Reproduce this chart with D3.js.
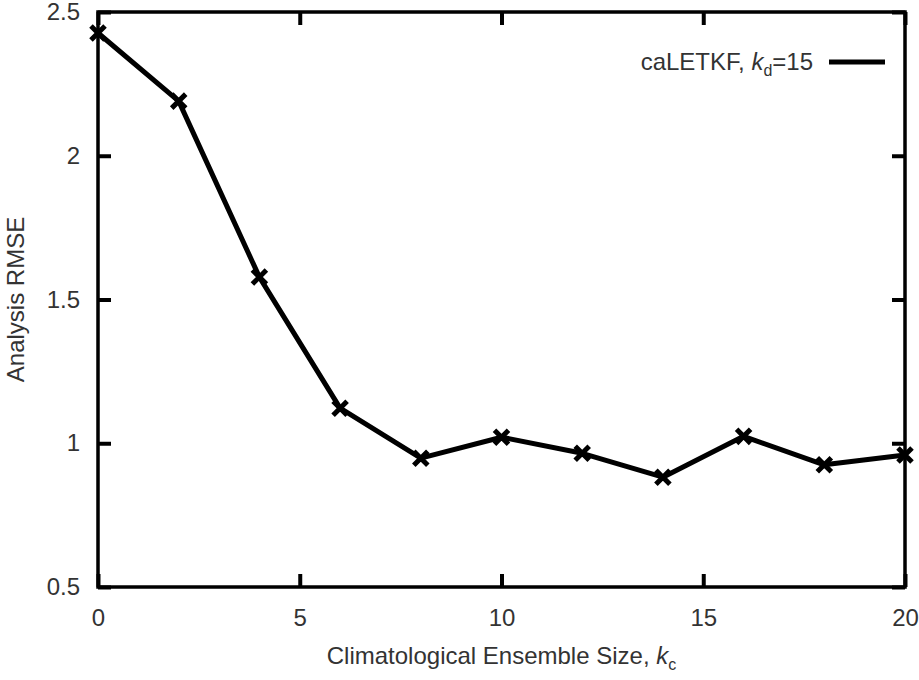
<!DOCTYPE html>
<html lang="en">
<head>
<meta charset="UTF-8">
<script src="https://cdn.jsdelivr.net/npm/d3@7"></script>
<style>
  body { margin: 0; background: #fff; }
  text { font-family: "Liberation Sans", Arial, sans-serif; fill: #333; }
</style>
</head>
<body>
<div id="chart"></div>
<script>
// data
const ensembleSize = [0, 2, 4, 6, 8, 10, 12, 14, 16, 18, 20];
const rmse = [2.427, 2.19, 1.578, 1.122, 0.948, 1.021, 0.965, 0.882, 1.024, 0.925, 0.959];
const xTicks = [0, 5, 10, 15, 20];
const yTicks = [0.5, 1, 1.5, 2, 2.5];

const W = 919, H = 680;
const margin = {top: 12, right: 14, bottom: 93, left: 98};
const width = W - margin.left - margin.right;
const height = H - margin.top - margin.bottom;

const svg = d3.select("#chart").append("svg").attr("width", W).attr("height", H);
const g = svg.append("g").attr("transform", "translate(" + margin.left + "," + margin.top + ")");

const x = d3.scaleLinear().domain([0, 20]).range([0, width]);
const y = d3.scaleLinear().domain([0.5, 2.5]).range([height, 0]);

// ticks on all four sides, pointing in
const tk = 13;
const fmt = d => d3.format("")(d);
const styleAxis = sel => {
  sel.select(".domain").remove();
  sel.selectAll("line").attr("stroke", "#000").attr("stroke-width", 4);
  sel.selectAll("text").attr("font-size", 24).attr("fill", "#333");
};
g.append("g").attr("transform", "translate(0," + height + ")")
  .call(d3.axisBottom(x).tickValues(xTicks).tickSize(-tk).tickPadding(22).tickFormat(fmt)).call(styleAxis);
g.append("g")
  .call(d3.axisTop(x).tickValues(xTicks).tickSize(-tk).tickFormat("")).call(styleAxis);
g.append("g")
  .call(d3.axisLeft(y).tickValues(yTicks).tickSize(-tk).tickPadding(18).tickFormat(fmt)).call(styleAxis);
g.append("g").attr("transform", "translate(" + width + ",0)")
  .call(d3.axisRight(y).tickValues(yTicks).tickSize(-tk).tickFormat("")).call(styleAxis);

g.append("rect").attr("width", width).attr("height", height)
  .attr("fill", "none").attr("stroke", "#000").attr("stroke-width", 3.5);

const pts = ensembleSize.map((k, i) => [k, rmse[i]]);
g.append("path").datum(pts)
  .attr("fill", "none").attr("stroke", "#000").attr("stroke-width", 5).attr("stroke-linejoin", "round")
  .attr("d", d3.line().x(d => x(d[0])).y(d => y(d[1])));

const cross = d3.symbol().type(d3.symbolX).size(130);
g.selectAll(".pt").data(pts).join("path")
  .attr("transform", d => "translate(" + x(d[0]) + "," + y(d[1]) + ")")
  .attr("d", cross).attr("stroke", "#000").attr("stroke-width", 5).attr("fill", "none");

// legend
const lg = g.append("g").attr("transform", "translate(" + (width - 92) + ",50)");
const lt = lg.append("text").attr("text-anchor", "end").attr("font-size", 24).attr("dy", "0.35em");
lt.append("tspan").text("caLETKF, ");
lt.append("tspan").attr("font-style", "italic").text("k");
lt.append("tspan").attr("font-size", 16).attr("dy", 6).text("d");
lt.append("tspan").attr("dy", -6).text("=15");
lg.append("line").attr("x1", 16).attr("x2", 72).attr("stroke", "#000").attr("stroke-width", 5);

// axis titles
const xt = svg.append("text").attr("x", margin.left + width / 2).attr("y", 664)
  .attr("text-anchor", "middle").attr("font-size", 24);
xt.append("tspan").text("Climatological Ensemble Size, ");
xt.append("tspan").attr("font-style", "italic").text("k");
xt.append("tspan").attr("font-size", 16).attr("dy", 6).text("c");

svg.append("text").attr("transform", "translate(24," + (margin.top + height / 2) + ") rotate(-90)")
  .attr("text-anchor", "middle").attr("font-size", 24).text("Analysis RMSE");
</script>
</body>
</html>
